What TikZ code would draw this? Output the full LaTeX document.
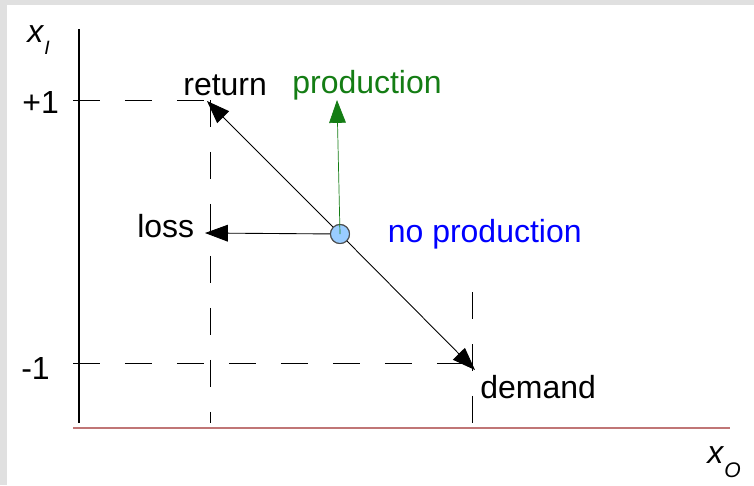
\documentclass[tikz,border=0pt]{standalone}
\usepackage{fontspec}
\setmainfont{Liberation Sans}
\usetikzlibrary{arrows.meta,positioning}

\definecolor{axisred}{RGB}{192,118,118}
\definecolor{prodgreen}{RGB}{20,125,20}
\definecolor{nopblue}{RGB}{153,204,255}

\begin{document}
\begin{tikzpicture}[x=0.02cm,y=-0.02cm,
	lbl/.style={inner sep=0pt,font=\fontsize{18.2}{22}\selectfont},
	guide/.style={line width=0.5pt,dash pattern=on 0.54cm off 0.5cm},
	move/.style={-{Triangle[length=13pt,width=9.5pt]},line width=0.5pt},
	state/.style={circle,draw=black!70,fill=nopblue,line width=0.6pt,minimum size=0.38cm,inner sep=0pt}]
	% frame
	\fill[black!12] (0,0) rectangle (754,485);
	\fill[white] (7,5) rectangle (754,485);
	\useasboundingbox (0,0) rectangle (754,485);
	% axes
	\draw[line width=0.6pt] (79,29) -- (79,423);
	\draw[axisred,line width=0.8pt] (73,428) -- (730,428);
	\node[lbl,anchor=base west] (xi) at (27,42) {\textit{x}\raisebox{-0.4em}{\fontsize{11}{12}\selectfont\textit{I}}};
	\node[lbl,anchor=base west] (xo) at (707,463) {\textit{x}\raisebox{-0.45em}{\fontsize{12}{13}\selectfont\textit{O}}};
	\node[lbl,anchor=base west] (plus) at (22,113) {+1};
	\node[lbl,anchor=base west] (minus) at (21,379) {-1};
	% guides
	\draw[guide] (73,100) -- (205,100);
	\draw[guide] (73,363) -- (472,363);
	\draw[guide] (210,100) -- (210,423);
	\draw[guide] (472,292) -- (472,423);
	% moves
	\coordinate (ret) at (207,101);
	\coordinate (dem) at (475,370);
	\coordinate (los) at (205,233);
	\coordinate (pro) at (337,100);
	\node[state] (np) at (340,234) {};
	\path[move]
		(np) edge (ret)
		(np) edge (dem)
		(np) edge (los);
	\node[state] at (np) {};
	\draw[move,prodgreen,line width=0.4pt] (np.center) -- (pro);
	\node[lbl,anchor=base west] (return) at (183,95) {return};
	\node[lbl,anchor=base west,text=prodgreen] (production) at (292,93) {production};
	\node[lbl,anchor=base west] (loss) at (137,237) {loss};
	\node[lbl,anchor=base west] (demand) at (480,398) {demand};
	\node[lbl,text=blue,right=0.75cm of np] (noprod) {no production};
\end{tikzpicture}
\end{document}
